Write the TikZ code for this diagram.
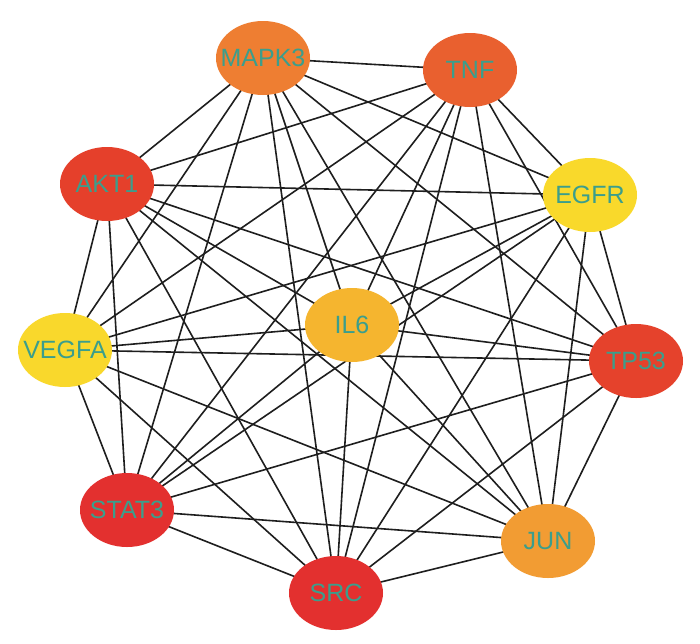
\documentclass[tikz,border=0pt]{standalone}
\usepackage{fontspec}
\setmainfont{Liberation Sans}
\usetikzlibrary{shapes.geometric}
\pgfdeclarelayer{bg}
\pgfsetlayers{bg,main}
\definecolor{cMAPK}{HTML}{EE7E32}
\definecolor{cTNF}{HTML}{E9602F}
\definecolor{cAKT}{HTML}{E5402B}
\definecolor{cEGFR}{HTML}{F9D92B}
\definecolor{cIL}{HTML}{F5B52F}
\definecolor{cVEGFA}{HTML}{F9D82C}
\definecolor{cTP}{HTML}{E5422C}
\definecolor{cSTAT}{HTML}{E3302F}
\definecolor{cJUN}{HTML}{F29C33}
\definecolor{cSRC}{HTML}{E3302F}
\definecolor{txt}{HTML}{3B9E8C}
\definecolor{edge}{HTML}{1E1E1E}
\tikzset{
  gene/.style={ellipse, minimum width=94pt, minimum height=74pt, inner sep=0pt,
    text=txt, font=\fontsize{25}{26}\selectfont},
  link/.style={line width=1.6pt, draw=edge}
}
\newcommand{\gtext}[1]{\makebox[0pt]{#1}}
\begin{document}
\begin{tikzpicture}[x=1pt,y=-1pt]
\useasboundingbox (0,0) rectangle (700,643);
\node[gene, fill=cMAPK] (MAPK3) at (263,58) {\gtext{MAPK3}};
\node[gene, fill=cTNF] (TNF) at (470,70) {\gtext{TNF}};
\node[gene, fill=cAKT] (AKT1) at (107,184) {\gtext{AKT1}};
\node[gene, fill=cEGFR] (EGFR) at (590,195) {\gtext{EGFR}};
\node[gene, fill=cIL] (IL6) at (352,325) {\gtext{IL6}};
\node[gene, fill=cVEGFA] (VEGFA) at (65,350) {\gtext{VEGFA}};
\node[gene, fill=cTP] (TP53) at (636,361) {\gtext{TP53}};
\node[gene, fill=cSTAT] (STAT3) at (127,510) {\gtext{STAT3}};
\node[gene, fill=cJUN] (JUN) at (548,541) {\gtext{JUN}};
\node[gene, fill=cSRC] (SRC) at (336,593) {\gtext{SRC}};
\begin{pgfonlayer}{bg}
\fill[white] (0,0) rectangle (700,643);
\foreach \a/\rest in {MAPK3/{TNF,AKT1,EGFR,IL6,VEGFA,TP53,STAT3,JUN,SRC},
                      TNF/{AKT1,EGFR,IL6,VEGFA,TP53,STAT3,JUN,SRC},
                      AKT1/{EGFR,IL6,VEGFA,TP53,STAT3,JUN,SRC},
                      EGFR/{IL6,VEGFA,TP53,STAT3,JUN,SRC},
                      IL6/{VEGFA,TP53,STAT3,JUN,SRC},
                      VEGFA/{TP53,STAT3,JUN,SRC},
                      TP53/{STAT3,JUN,SRC},
                      STAT3/{JUN,SRC},
                      JUN/{SRC}}{
  \foreach \b in \rest { \draw[link] (\a.center) -- (\b.center); }
}
\end{pgfonlayer}
\end{tikzpicture}
\end{document}
